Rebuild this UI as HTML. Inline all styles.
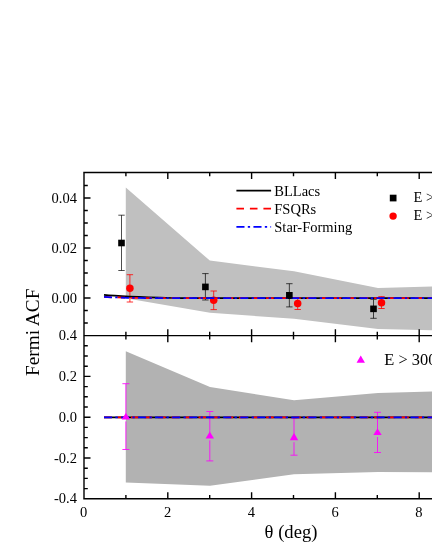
<!DOCTYPE html>
<html><head><meta charset="utf-8"><title>Fermi ACF</title>
<style>html,body{margin:0;padding:0;background:#fff;}body{width:432px;height:559px;overflow:hidden;position:relative;font-family:"Liberation Serif",serif;}</style>
</head><body>
<svg width="432" height="559" viewBox="0 0 432 559" style="position:absolute;left:0;top:0;display:block">
<rect x="0" y="0" width="432" height="559" fill="#fff"/>
<polygon fill="#c0c0c0" points="125.8,187.6 209.8,260.6 294.0,271.3 378.0,288.1 462.0,285.8 462.0,330.8 378.0,329.1 294.0,318.7 210.0,312.8 125.8,298.2"/>
<polygon fill="#b2b2b2" points="125.8,351.3 210.0,387.0 294.0,400.2 378.0,393.0 462.0,390.8 462.0,472.4 378.0,472.0 294.0,474.2 210.0,485.8 125.8,482.6"/>
<path d="M121.50 215.20V270.50M118.30 215.20H124.70M118.30 270.50H124.70" stroke="#000" stroke-width="0.70" fill="none"/>
<path d="M205.40 273.60V300.00M202.20 273.60H208.60M202.20 300.00H208.60" stroke="#000" stroke-width="0.70" fill="none"/>
<path d="M289.35 283.70V306.90M286.15 283.70H292.55M286.15 306.90H292.55" stroke="#000" stroke-width="0.70" fill="none"/>
<path d="M373.50 299.30V318.30M370.30 299.30H376.70M370.30 318.30H376.70" stroke="#000" stroke-width="0.70" fill="none"/>
<path d="M129.90 274.70V302.00M126.70 274.70H133.10M126.70 302.00H133.10" stroke="#f00" stroke-width="0.80" fill="none"/>
<circle cx="129.90" cy="288.20" r="3.75" fill="#f00"/>
<path d="M213.70 291.00V309.60M210.50 291.00H216.90M210.50 309.60H216.90" stroke="#f00" stroke-width="0.80" fill="none"/>
<circle cx="213.70" cy="300.30" r="3.75" fill="#f00"/>
<path d="M297.70 298.10V309.50M294.50 298.10H300.90M294.50 309.50H300.90" stroke="#f00" stroke-width="0.80" fill="none"/>
<circle cx="297.70" cy="303.60" r="3.75" fill="#f00"/>
<path d="M381.50 296.60V308.50M378.30 296.60H384.70M378.30 308.50H384.70" stroke="#f00" stroke-width="0.80" fill="none"/>
<circle cx="381.50" cy="302.70" r="3.75" fill="#f00"/>
<path d="M125.90 383.70V413.80M125.90 421.40V449.50M122.40 383.70H129.40M122.40 449.50H129.40" stroke="#f0f" stroke-width="0.85" fill="none"/>
<path d="M209.80 411.50V432.50M209.80 440.40V460.90M206.30 411.50H213.30M206.30 460.90H213.30" stroke="#f0f" stroke-width="0.85" fill="none"/>
<path d="M294.00 418.00V433.70M294.00 442.20V455.20M290.50 418.00H297.50M290.50 455.20H297.50" stroke="#f0f" stroke-width="0.85" fill="none"/>
<path d="M377.50 412.30V429.20M377.50 437.00V452.50M374.00 412.30H381.00M374.00 452.50H381.00" stroke="#f0f" stroke-width="0.85" fill="none"/>
<path d="M104 294.9 C115 296 135 297 172 298 L432 298" stroke="#000" stroke-width="1.75" fill="none"/>
<path d="M104 296.9 C115 297.5 130 297.9 150 298.1 L432 298.1" stroke="#f00" stroke-width="1.75" fill="none" stroke-dasharray="7.6 5.91"/>
<path d="M104 296.9 C115 297.5 130 297.9 150 298.1 L432 298.1" stroke="#00f" stroke-width="1.75" fill="none" stroke-dasharray="8.1 3.3 2.3 3.33"/>
<path d="M104 417.45H432" stroke="#000" stroke-width="1.75" fill="none"/>
<path d="M104 417.45H432" stroke="#f00" stroke-width="1.75" fill="none" stroke-dasharray="7.6 5.91"/>
<path d="M104 417.45H432" stroke="#00f" stroke-width="1.75" fill="none" stroke-dasharray="8.1 3.3 2.3 3.33"/>
<polygon fill="#f0f" points="125.90,412.80 130.10,419.40 121.70,419.40"/>
<polygon fill="#f0f" points="209.80,431.50 214.00,438.40 205.60,438.40"/>
<polygon fill="#f0f" points="294.00,432.70 298.20,440.20 289.80,440.20"/>
<polygon fill="#f0f" points="377.50,428.20 381.70,435.00 373.30,435.00"/>
<rect x="118.20" y="239.70" width="6.6" height="6.6" fill="#000"/>
<rect x="202.10" y="283.60" width="6.6" height="6.6" fill="#000"/>
<rect x="286.05" y="292.00" width="6.6" height="6.6" fill="#000"/>
<rect x="370.20" y="305.55" width="6.6" height="6.6" fill="#000"/>
<path d="M84.00 171.75V499.55M83.25 172.50H440M83.25 335.65H440M83.25 498.80H440M125.90 172.50v3.80M125.90 331.85v7.60M125.90 498.80v-3.80M167.80 172.50v6.50M167.80 329.15v13.00M167.80 498.80v-6.50M209.70 172.50v3.80M209.70 331.85v7.60M209.70 498.80v-3.80M251.60 172.50v6.50M251.60 329.15v13.00M251.60 498.80v-6.50M293.50 172.50v3.80M293.50 331.85v7.60M293.50 498.80v-3.80M335.40 172.50v6.50M335.40 329.15v13.00M335.40 498.80v-6.50M377.30 172.50v3.80M377.30 331.85v7.60M377.30 498.80v-3.80M419.20 172.50v6.50M419.20 329.15v13.00M419.20 498.80v-6.50M461.10 172.50v3.80M461.10 331.85v7.60M461.10 498.80v-3.80M84.00 323.00h3.80M84.00 310.50h3.80M84.00 298.00h6.50M84.00 285.50h3.80M84.00 273.00h3.80M84.00 260.50h3.80M84.00 248.00h6.50M84.00 235.50h3.80M84.00 223.00h3.80M84.00 210.50h3.80M84.00 198.00h6.50M84.00 185.50h3.80M84.00 488.60h3.80M84.00 478.40h3.80M84.00 468.20h3.80M84.00 458.00h6.50M84.00 447.80h3.80M84.00 437.60h3.80M84.00 427.40h3.80M84.00 417.20h6.50M84.00 407.00h3.80M84.00 396.80h3.80M84.00 386.60h3.80M84.00 376.40h6.50M84.00 366.20h3.80M84.00 356.00h3.80M84.00 345.80h3.80" stroke="#000" stroke-width="1.4" fill="none"/>
<g font-family="'Liberation Serif', serif" fill="#000" style="filter:grayscale(1)">
<g font-size="14.5px" text-anchor="end">
<text x="76.9" y="202.60">0.04</text>
<text x="76.9" y="252.60">0.02</text>
<text x="76.9" y="302.60">0.00</text>
<text x="76.9" y="340.20">0.4</text>
<text x="76.9" y="381.00">0.2</text>
<text x="76.9" y="421.80">0.0</text>
<text x="76.9" y="462.60">-0.2</text>
<text x="76.9" y="503.40">-0.4</text>
</g>
<g font-size="14.5px" text-anchor="middle">
<text x="83.70" y="516.6">0</text>
<text x="167.50" y="516.6">2</text>
<text x="251.30" y="516.6">4</text>
<text x="335.10" y="516.6">6</text>
<text x="418.90" y="516.6">8</text>
</g>
<text x="291" y="537.5" font-size="18.6px" text-anchor="middle">θ (deg)</text>
<text transform="translate(39,332.3) rotate(-90)" font-size="19.3px" text-anchor="middle">Fermi ACF</text>
<g font-size="14.5px">
<text x="274.3" y="195.5">BLLacs</text>
<text x="274.3" y="213.8">FSQRs</text>
<text x="274.3" y="232">Star-Forming</text>
<text x="413.6" y="202.4">E &gt; 1 GeV</text>
<text x="413.6" y="220.4">E &gt; 3 GeV</text>
</g>
<text x="384.3" y="365" font-size="16.4px">E &gt; 300 MeV</text>
</g>
<path d="M236.4 190.6H271.1" stroke="#000" stroke-width="1.75"/>
<path d="M236.4 208.7H271.1" stroke="#f00" stroke-width="1.75" stroke-dasharray="7.6 5.91"/>
<path d="M236.4 226.9H271.1" stroke="#00f" stroke-width="1.75" stroke-dasharray="8.1 3.3 2.3 3.33"/>
<rect x="389.8" y="194.7" width="6.7" height="6.7" fill="#000"/>
<circle cx="393.1" cy="216.1" r="3.7" fill="#f00"/>
<polygon fill="#f0f" points="360.75,355.40 364.95,362.80 356.55,362.80"/>
</svg>
</body></html>
